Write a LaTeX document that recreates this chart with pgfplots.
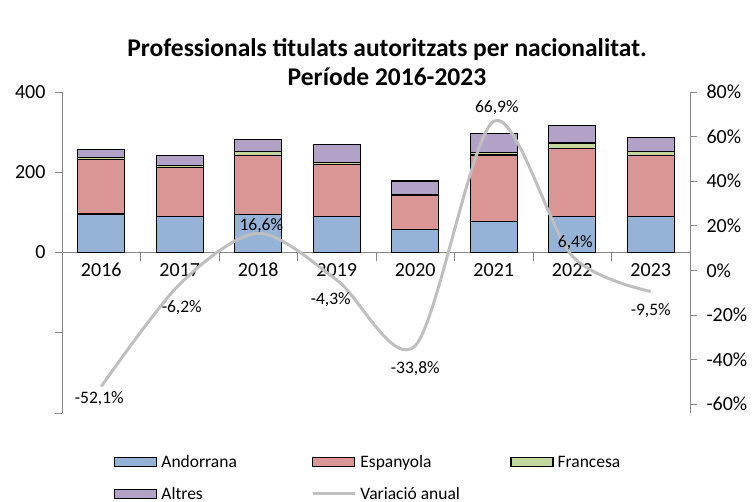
\documentclass[border=0pt]{standalone}
\usepackage{pgfplots}
\pgfplotsset{compat=1.18}
\usepackage{fontspec}
\setmainfont{Carlito}
\definecolor{cAnd}{HTML}{95B3D7}
\definecolor{cEsp}{HTML}{D99694}
\definecolor{cFra}{HTML}{C3D69B}
\definecolor{cAlt}{HTML}{B3A2C7}
\definecolor{linegray}{HTML}{BFBFBF}
\definecolor{axgray}{HTML}{868686}
\pgfplotsset{
  boxlegend/.style={legend image code/.code={\draw[##1,draw=black,line width=1.2bp] (0bp,-4.5bp) rectangle (42bp,4.5bp);}},
  linelegend/.style={legend image code/.code={\draw[##1] (0bp,0bp) -- (42bp,0bp);}},
}
\begin{document}
\begin{tikzpicture}
\useasboundingbox (0,0) rectangle (753bp,502bp);
\node[font=\fontsize{25.5bp}{29bp}\selectfont\bfseries, align=center, inner sep=0pt] at (387bp,439.5bp) {Professionals titulats autoritzats per nacionalitat.\\Període 2016-2023};
\begin{axis}[
  at={(62bp,89bp)}, anchor=south west,
  scale only axis, width=628bp, height=321bp,
  xmin=-0.5, xmax=7.5, ymin=-400, ymax=400,
  ybar stacked, bar width=47bp,
  axis y line*=left, axis x line*=middle,
  axis line style={draw=axgray, line width=0.8bp, -},
  every inner x axis line/.append style={-},
  xtick={0,...,7}, xticklabels={2016,2017,2018,2019,2020,2021,2022,2023},
  minor xtick={-0.5,0.5,...,7.5},
  ytick={-400,-200,0,200,400}, yticklabels={,,0,200,400},
  tick align=outside, major tick length=7bp, minor tick length=8bp,
  every major x tick/.append style={draw=none},
  tick style={draw=axgray, line width=0.8bp},
  ticklabel style={font=\fontsize{20bp}{24bp}\selectfont},
  yticklabel style={xshift=-6bp},
  /pgf/number format/assume math mode=true,
  boxlegend,
  legend columns=3,
  legend cell align=left,
  legend style={at={(axis description cs:0.0828,-0.1313)}, anchor=north west, draw=none, fill=none,
    inner sep=0pt, column sep=0pt, row sep=18bp,
    font=\fontsize{17.5bp}{21bp}\selectfont, nodes={inner sep=0pt}},
]
\addplot[fill=cAnd, draw=black, line width=1.2bp] coordinates {(0,96) (1,90) (2,94) (3,90) (4,57) (5,78) (6,90) (7,90)};
\addlegendentry{\hspace{4bp}\makebox[150bp][l]{Andorrana}}
\addplot[fill=cEsp, draw=black, line width=1.2bp] coordinates {(0,136) (1,122) (2,148) (3,130) (4,85) (5,165) (6,169) (7,152)};
\addlegendentry{\hspace{4bp}\makebox[150bp][l]{Espanyola}}
\addplot[fill=cFra, draw=black, line width=1.2bp] coordinates {(0,4) (1,5) (2,10) (3,5) (4,3) (5,6) (6,14) (7,10)};
\addlegendentry{\hspace{4bp}\makebox[150bp][l]{Francesa}}
\addplot[fill=cAlt, draw=black, line width=1.2bp] coordinates {(0,21) (1,24) (2,29) (3,44) (4,33) (5,48) (6,43) (7,34)};
\addlegendentry{\hspace{4bp}\makebox[150bp][l]{Altres}}
\addlegendimage{linelegend, draw=linegray, line width=3bp}
\addlegendentry{\hspace{4bp}\makebox[150bp][l]{Variació anual}}
\end{axis}
\begin{axis}[
  at={(62bp,89bp)}, anchor=south west,
  scale only axis, width=628bp, height=321bp,
  xmin=-0.5, xmax=7.5, ymin=-64, ymax=80,
  axis y line*=right, axis x line=none,
  axis line style={draw=axgray, line width=0.8bp, -},
  ytick={-60,-40,...,80},
  yticklabel={\pgfmathprintnumber[assume math mode=true]{\tick}\%},
  tick align=outside, major tick length=7bp,
  tick style={draw=axgray, line width=0.8bp},
  ticklabel style={font=\fontsize{20bp}{24bp}\selectfont},
  yticklabel style={xshift=6bp},
  clip=false,
]
\addplot[smooth, color=linegray, line width=3bp] coordinates {(0,-52.1) (1,-6.2) (2,16.6) (3,-4.3) (4,-33.8) (5,66.9) (6,6.4) (7,-9.5)};
\begin{scope}[every node/.style={font=\fontsize{17.5bp}{21bp}\selectfont, inner sep=0pt}]
\node[xshift=-2bp, yshift=-12bp] at (axis cs:0,-52.1) {-52,1\%};
\node[xshift=2bp, yshift=-23.5bp] at (axis cs:1,-6.2) {-6,2\%};
\node[xshift=3bp, yshift=8bp] at (axis cs:2,16.6) {16,6\%};
\node[xshift=-6bp, yshift=-20bp] at (axis cs:3,-4.3) {-4,3\%};
\node[yshift=-23bp] at (axis cs:4,-33.8) {-33,8\%};
\node[xshift=3bp, yshift=14bp] at (axis cs:5,66.9) {66,9\%};
\node[xshift=3bp, yshift=13bp] at (axis cs:6,6.4) {6,4\%};
\node[yshift=-19.5bp] at (axis cs:7,-9.5) {-9,5\%};
\end{scope}
\end{axis}
\end{tikzpicture}
\end{document}
